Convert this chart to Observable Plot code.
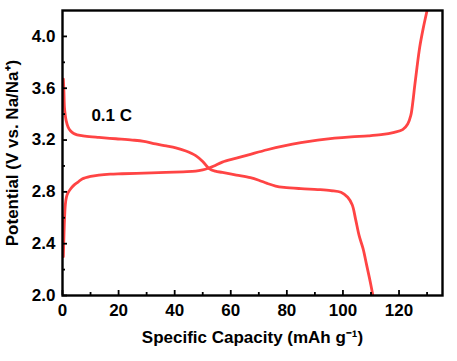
<!DOCTYPE html>
<html><head><meta charset="utf-8">
<script src="https://cdn.jsdelivr.net/npm/d3@7"></script>
<script src="https://cdn.jsdelivr.net/npm/@observablehq/plot@0.6"></script>
<style>body{margin:0;background:#fff}</style>
</head><body><div id="chart"></div>
<script>
// Charge (rising) curve
const chargeCapacity = [0.3, 0.5, 0.7, 1.0, 1.4, 1.9, 2.8, 4.0, 5.5, 7.0, 10, 13, 17, 21.3, 29, 36.8, 43, 47.5, 50, 51.7, 54, 57, 62, 67, 73, 79, 85, 91, 97, 102.9, 109, 113.6, 118.3, 121.3, 123.1, 124.2, 124.9, 125.6, 126.4, 127.4, 128.6, 130.0];
const chargePotential = [2.30, 2.45, 2.58, 2.70, 2.76, 2.79, 2.82, 2.85, 2.875, 2.90, 2.92, 2.93, 2.937, 2.94, 2.945, 2.95, 2.955, 2.96, 2.97, 2.98, 3.00, 3.03, 3.06, 3.09, 3.125, 3.155, 3.18, 3.20, 3.215, 3.225, 3.232, 3.241, 3.259, 3.28, 3.324, 3.39, 3.49, 3.62, 3.76, 3.92, 4.06, 4.20];
// Discharge (falling) curve
const dischargeCapacity = [0.3, 0.5, 0.7, 1.0, 1.3, 2.0, 2.9, 4.0, 5.2, 8, 13, 19, 24.9, 29, 33.2, 37, 40.4, 44, 47.5, 50, 52.3, 54.5, 57, 62, 67, 70, 73, 76, 79, 85, 91, 95.7, 99.3, 101.7, 103.3, 104.5, 105.8, 107.2, 108.4, 109.5, 110.6];
const dischargePotential = [3.67, 3.58, 3.45, 3.39, 3.35, 3.30, 3.27, 3.25, 3.24, 3.23, 3.22, 3.21, 3.20, 3.19, 3.17, 3.155, 3.14, 3.115, 3.08, 3.035, 2.98, 2.96, 2.95, 2.93, 2.91, 2.89, 2.865, 2.845, 2.835, 2.825, 2.818, 2.81, 2.797, 2.758, 2.70, 2.59, 2.46, 2.36, 2.24, 2.13, 2.01];

const xMajorTicks = [0, 20, 40, 60, 80, 100, 120];
const xMinorTicks = [10, 30, 50, 70, 90, 110, 130];
const yMajorTicks = [2.0, 2.4, 2.8, 3.2, 3.6, 4.0];
const yMinorTicks = [2.2, 2.6, 3.0, 3.4, 3.8];
const annotation = [{x: 10.3, y: 3.39, text: "0.1 C"}];

const charge = chargeCapacity.map((c, i) => ({c, v: chargePotential[i]}));
const discharge = dischargeCapacity.map((c, i) => ({c, v: dischargePotential[i]}));
const red = "#ff4444";

const chart = Plot.plot({
  width: 457,
  height: 361,
  marginLeft: 62,
  marginRight: 15,
  marginTop: 10,
  marginBottom: 66,
  style: {fontFamily: "'Liberation Sans', Arial, sans-serif", fontWeight: "bold", fontSize: "17px", color: "#000", background: "#fff"},
  x: {domain: [0, 135.5]},
  y: {domain: [2.0, 4.2]},
  marks: [
    Plot.line(discharge, {x: "c", y: "v", stroke: red, strokeWidth: 2.8, curve: "catmull-rom", clip: true}),
    Plot.line(charge, {x: "c", y: "v", stroke: red, strokeWidth: 2.8, curve: "catmull-rom", clip: true}),
    Plot.axisX(xMajorTicks, {tickSize: -5, text: null, strokeWidth: 1.8}),
    Plot.axisX(xMinorTicks, {tickSize: -3, text: null, strokeWidth: 1.8}),
    Plot.axisX(xMajorTicks, {tickSize: 0, tickPadding: 8, fontSize: 17, label: "Specific Capacity (mAh g\u207B\u00B9)", labelAnchor: "center", labelOffset: 47, labelArrow: "none"}),
    Plot.axisY(yMajorTicks, {tickSize: -5, text: null, strokeWidth: 1.8}),
    Plot.axisY(yMinorTicks, {tickSize: -3, text: null, strokeWidth: 1.8}),
    Plot.axisY(yMajorTicks, {tickSize: 0, tickPadding: 7, tickFormat: d3.format(".1f"), fontSize: 17, label: "Potential (V vs. Na/Na\u207A)", labelAnchor: "center", labelOffset: 57, labelArrow: "none"}),
    Plot.frame({stroke: "#000", strokeWidth: 2.4}),
    Plot.text(annotation, {x: "x", y: "y", text: "text", textAnchor: "start", fontSize: 17, fontWeight: "bold"})
  ]
});
document.getElementById("chart").append(chart);
</script>
</body></html>
